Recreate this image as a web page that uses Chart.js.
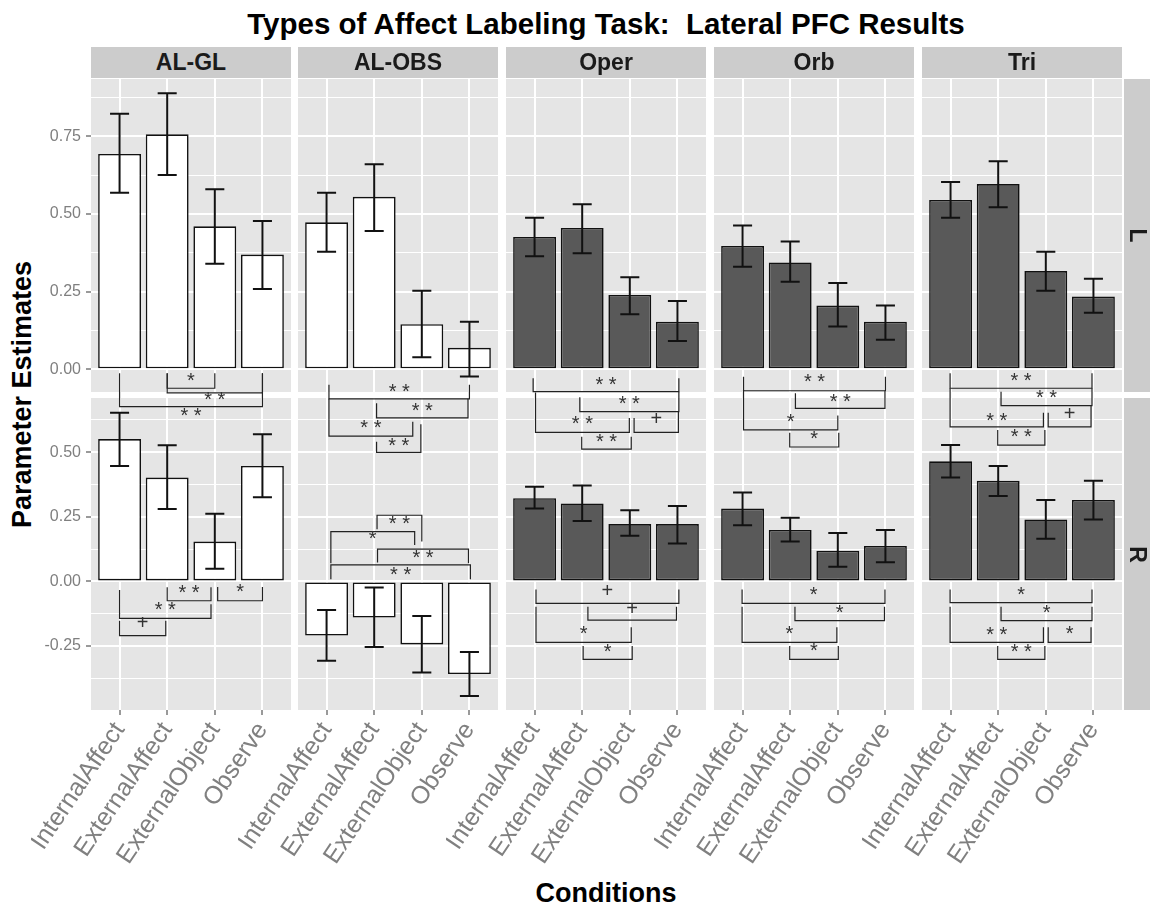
<!DOCTYPE html>
<html>
<head>
<meta charset="utf-8">
<script src="https://cdn.jsdelivr.net/npm/chart.js@4.4.0/dist/chart.umd.min.js"></script>
<style>
  body { margin: 0; background: #fff; width: 1150px; height: 907px; overflow: hidden; position: relative;
         font-family: "Liberation Sans", Arial, sans-serif; }
  canvas { position: absolute; }
  .txt { position: absolute; white-space: pre; line-height: 1; font-weight: bold; color: #000; }
  .strip { position: absolute; background: #cccccc; color: #1a1a1a; font-weight: bold; font-size: 23px;
           display: flex; align-items: center; justify-content: center; z-index: 3; }
</style>
</head>
<body>
<div class="txt" id="title" style="left:31px;width:1150px;top:9px;font-size:29.5px;text-align:center;">Types of Affect Labeling Task:  Lateral PFC Results</div>
<div class="txt" id="xtitle" style="left:31px;width:1150px;top:880px;font-size:27px;text-align:center;">Conditions</div>
<div class="txt" id="ytitle" style="left:-178px;width:400px;top:381px;height:27px;font-size:27px;text-align:center;transform:rotate(-90deg);">Parameter Estimates</div>

<script>
// ─────────────────────────────────────────────
// 데이터
// ─────────────────────────────────────────────
const conditions = ['InternalAffect', 'ExternalAffect', 'ExternalObject', 'Observe'];
const regions = ['AL-GL', 'AL-OBS', 'Oper', 'Orb', 'Tri'];
const hemis = ['L', 'R'];

// 막대 값 (행 = region 순서)
const estL = [
  [0.693, 0.756, 0.460, 0.369],
  [0.473, 0.555, 0.145, 0.069],
  [0.426, 0.455, 0.239, 0.153],
  [0.397, 0.344, 0.205, 0.153],
  [0.545, 0.596, 0.316, 0.234],
];
const loL = [
  [0.568, 0.625, 0.340, 0.258],
  [0.378, 0.445, 0.039, -0.023],
  [0.364, 0.373, 0.177, 0.091],
  [0.330, 0.282, 0.138, 0.095],
  [0.488, 0.521, 0.253, 0.182],
];
const hiL = [
  [0.822, 0.888, 0.579, 0.477],
  [0.568, 0.660, 0.253, 0.153],
  [0.488, 0.531, 0.296, 0.220],
  [0.463, 0.411, 0.278, 0.205],
  [0.603, 0.669, 0.378, 0.291],
];
const estR = [
  [0.551, 0.402, 0.154, 0.447],
  [-0.210, -0.140, -0.244, -0.359],
  [0.322, 0.302, 0.222, 0.222],
  [0.282, 0.199, 0.119, 0.137],
  [0.465, 0.390, 0.240, 0.315],
];
const loR = [
  [0.447, 0.280, 0.049, 0.326],
  [-0.307, -0.254, -0.353, -0.444],
  [0.282, 0.234, 0.177, 0.147],
  [0.217, 0.154, 0.057, 0.074],
  [0.402, 0.331, 0.165, 0.240],
];
const hiR = [
  [0.653, 0.527, 0.262, 0.570],
  [-0.111, -0.024, -0.134, -0.273],
  [0.366, 0.371, 0.275, 0.292],
  [0.344, 0.246, 0.187, 0.199],
  [0.528, 0.447, 0.315, 0.390],
];

// 유의성 괄호: [x1, x2, 가로선 y, 왼쪽 다리 끝, 오른쪽 다리 끝, 글자 y, 글자]
const bracketsL = [
  [[2, 3, -0.061, -0.013, -0.013, -0.018, '*'],
   [2, 4, -0.076, -0.013, -0.013, -0.082, '**'],
   [1, 4, -0.120, -0.013, -0.013, -0.131, '**']],
  [[1.05, 4, -0.095, -0.050, -0.050, -0.056, '**'],
   [2.05, 3.97, -0.156, -0.109, -0.095, -0.115, '**'],
   [1.05, 2.81, -0.215, -0.095, -0.169, -0.172, '**'],
   [2.05, 2.98, -0.267, -0.233, -0.177, -0.228, '**']],
  [[0.97, 4.03, -0.072, -0.029, -0.029, -0.034, '**'],
   [1.95, 4.03, -0.136, -0.090, -0.072, -0.094, '**'],
   [1.02, 2.99, -0.203, -0.075, -0.157, -0.157, '**'],
   [3.09, 4.02, -0.203, -0.157, -0.136, -0.157, '+'],
   [1.99, 3.03, -0.257, -0.217, -0.217, -0.215, '**']],
  [[1.02, 4.0, -0.069, -0.024, -0.024, -0.024, '**'],
   [2.11, 3.99, -0.126, -0.077, -0.069, -0.086, '**'],
   [1.02, 3.0, -0.195, -0.066, -0.149, -0.152, '*'],
   [1.99, 3.02, -0.250, -0.204, -0.204, -0.206, '*']],
  [[0.99, 3.97, -0.061, -0.013, -0.013, -0.018, '**'],
   [2.06, 3.97, -0.117, -0.072, -0.061, -0.075, '**'],
   [0.99, 2.95, -0.185, -0.061, -0.140, -0.147, '**'],
   [3.05, 3.95, -0.185, -0.140, -0.117, -0.142, '+'],
   [1.99, 2.98, -0.244, -0.195, -0.195, -0.201, '**']],
];
const bracketsR = [
  [[2, 2.92, -0.075, -0.023, -0.023, -0.023, '**'],
   [3.06, 4, -0.075, -0.022, -0.022, -0.020, '*'],
   [1, 2.92, -0.143, -0.033, -0.089, -0.091, '**'],
   [1, 1.97, -0.210, -0.152, -0.152, -0.158, '+']],
  [[2.06, 3.0, 0.256, 0.202, 0.154, 0.244, '**'],
   [1.09, 2.85, 0.193, 0.070, 0.141, 0.184, '*'],
   [2.07, 3.98, 0.125, 0.073, 0.070, 0.113, '**'],
   [1.09, 4.02, 0.064, 0.008, 0.008, 0.047, '**']],
  [[1.03, 4.03, -0.085, -0.031, -0.031, -0.033, '+'],
   [2.12, 3.98, -0.150, -0.098, -0.098, -0.104, '+'],
   [1.03, 3.03, -0.236, -0.098, -0.178, -0.182, '*'],
   [2.02, 3.05, -0.302, -0.250, -0.250, -0.250, '*']],
  [[0.99, 3.99, -0.085, -0.031, -0.031, -0.031, '*'],
   [2.1, 3.98, -0.152, -0.098, -0.098, -0.100, '*'],
   [0.99, 2.98, -0.236, -0.098, -0.178, -0.182, '*'],
   [1.99, 3.01, -0.302, -0.250, -0.250, -0.248, '*']],
  [[0.99, 3.97, -0.082, -0.031, -0.031, -0.031, '*'],
   [2.06, 3.97, -0.152, -0.098, -0.098, -0.100, '*'],
   [0.99, 2.95, -0.236, -0.098, -0.178, -0.186, '**'],
   [3.05, 3.95, -0.236, -0.178, -0.178, -0.182, '*'],
   [1.99, 2.98, -0.302, -0.250, -0.250, -0.250, '**']],
];

// 행별 y축 범위 (free_y)
const rangeL = [-0.073, 0.934];
const rangeR = [-0.498, 0.710];

// ─────────────────────────────────────────────
// 레이아웃 / 스타일
// ─────────────────────────────────────────────
const FONT = '"Liberation Sans", Arial, sans-serif';
const PANEL_X = [91, 298, 506, 714, 922];
const PANEL_W = 200;
const ROW_Y = [79, 398];
const ROW_H = [313, 312];
const AXIS_W = 60;
const barFill = ['#ffffff', '#ffffff', '#595959', '#595959', '#595959'];

const isMajor = v => Math.abs(v / 0.25 - Math.round(v / 0.25)) < 1e-6;

// 스트립 (위 / 오른쪽)
regions.forEach((name, c) => {
  const d = document.createElement('div');
  d.className = 'strip';
  d.style.cssText = `left:${PANEL_X[c]}px;top:47px;width:${PANEL_W}px;height:31px;`;
  d.textContent = name;
  document.body.appendChild(d);
});
hemis.forEach((name, r) => {
  const d = document.createElement('div');
  d.className = 'strip';
  d.style.cssText = `left:1124px;top:${ROW_Y[r]}px;width:27px;height:${ROW_H[r]}px;`;
  const s = document.createElement('span');
  s.textContent = name;
  s.style.cssText = 'display:inline-block;transform:rotate(90deg);margin-left:-1px;';
  d.appendChild(s);
  document.body.appendChild(d);
});

// 축 여백 없애기 (라벨 때문에 chartArea가 밀리지 않도록)
function noPad(s) {
  s.paddingTop = 0; s.paddingBottom = 0; s.paddingLeft = 0; s.paddingRight = 0;
}

// ─────────────────────────────────────────────
// 패널 하나 그리기
// ─────────────────────────────────────────────
function makePanel(col, row) {
  const isL = row === 0;
  const est = (isL ? estL : estR)[col];
  const lo = (isL ? loL : loR)[col];
  const hi = (isL ? hiL : hiR)[col];
  const brk = (isL ? bracketsL : bracketsR)[col];
  const [ymin, ymax] = isL ? rangeL : rangeR;

  const padT = 4, padR = 4;
  const padB = isL ? 74 : 0;
  const xAxisH = isL ? 0 : 907 - (ROW_Y[1] + ROW_H[1]);
  const W = AXIS_W + PANEL_W + padR;
  const H = padT + ROW_H[row] + padB + xAxisH;

  const cv = document.createElement('canvas');
  cv.width = W; cv.height = H;
  cv.style.cssText = `left:${PANEL_X[col] - AXIS_W}px;top:${ROW_Y[row] - padT}px;width:${W}px;height:${H}px;z-index:${isL ? 2 : 1};`;
  document.body.appendChild(cv);

  const deco = {
    id: 'deco' + col + row,
    beforeDraw(chart) {
      const a = chart.chartArea, ctx = chart.ctx;
      ctx.save();
      ctx.fillStyle = '#e5e5e5';
      ctx.fillRect(a.left, a.top, a.right - a.left, a.bottom - a.top);
      ctx.restore();
    },
    afterDatasetsDraw(chart) {
      const xs = chart.scales.x, ys = chart.scales.y, ctx = chart.ctx;
      ctx.save();
      // 에러바
      ctx.strokeStyle = '#111';
      ctx.lineWidth = 2;
      lo.forEach((l, i) => {
        const px = xs.getPixelForValue(i + 1);
        const hw = xs.getPixelForValue(i + 1.2) - px;
        const y1 = ys.getPixelForValue(l), y2 = ys.getPixelForValue(hi[i]);
        ctx.beginPath();
        ctx.moveTo(px, y1); ctx.lineTo(px, y2);
        ctx.moveTo(px - hw, y1); ctx.lineTo(px + hw, y1);
        ctx.moveTo(px - hw, y2); ctx.lineTo(px + hw, y2);
        ctx.stroke();
      });
      // 유의성 괄호
      ctx.strokeStyle = '#222';
      ctx.lineWidth = 1.2;
      const fs = 20;
      ctx.font = `${fs}px ${FONT}`;
      ctx.fillStyle = '#333';
      ctx.textAlign = 'center';
      ctx.textBaseline = 'alphabetic';
      brk.forEach(([x1, x2, yl, t1, t2, yt, lab]) => {
        const X1 = xs.getPixelForValue(x1), X2 = xs.getPixelForValue(x2);
        const YL = ys.getPixelForValue(yl);
        ctx.beginPath();
        ctx.moveTo(X1, ys.getPixelForValue(t1));
        ctx.lineTo(X1, YL);
        ctx.lineTo(X2, YL);
        ctx.lineTo(X2, ys.getPixelForValue(t2));
        ctx.stroke();
        const k = lab === '+' ? 0.35 : 0.58;
        const txt = lab === '**' ? '* *' : lab;
        ctx.fillText(txt, (X1 + X2) / 2, ys.getPixelForValue(yt) + k * fs);
      });
      ctx.restore();
    }
  };

  new Chart(cv, {
    type: 'bar',
    data: {
      datasets: [{
        data: est.map((v, i) => ({ x: i + 1, y: v })),
        backgroundColor: barFill[col],
        borderColor: '#111',
        borderWidth: 1.6,
        borderSkipped: false,
        barPercentage: 0.9,
        categoryPercentage: 1,
      }]
    },
    options: {
      responsive: false,
      animation: false,
      devicePixelRatio: 1,
      layout: { padding: { top: padT, right: padR, bottom: padB, left: 0 } },
      plugins: { legend: { display: false }, tooltip: { enabled: false } },
      scales: {
        x: {
          type: 'linear', min: 0.4, max: 4.6, offset: false,
          afterBuildTicks: s => { s.ticks = [1, 2, 3, 4].map(v => ({ value: v })); },
          afterFit: s => { s.height = xAxisH; noPad(s); },
          grid: { color: '#ffffff', lineWidth: 2, offset: false, drawTicks: !isL, tickLength: 5, tickColor: '#9a9a9a' },
          border: { display: false },
          ticks: {
            display: !isL, autoSkip: false, minRotation: 56, maxRotation: 56, padding: 2,
            color: '#808080', font: { family: FONT, size: 25 },
            callback: v => conditions[v - 1]
          }
        },
        y: {
          min: ymin, max: ymax,
          afterBuildTicks: s => {
            const t = [];
            for (let k = Math.ceil(ymin / 0.125); k * 0.125 <= ymax; k++) t.push({ value: k * 0.125 });
            s.ticks = t;
          },
          afterFit: s => { s.width = AXIS_W; noPad(s); },
          grid: {
            color: '#ffffff',
            lineWidth: c => (c.tick && isMajor(c.tick.value)) ? 2 : 1,
            drawTicks: col === 0, tickLength: 5,
            tickColor: c => (c.tick && isMajor(c.tick.value)) ? '#9a9a9a' : 'rgba(0,0,0,0)'
          },
          border: { display: false },
          ticks: {
            display: col === 0, autoSkip: false, padding: 5,
            color: '#7f7f7f', font: { family: FONT, size: 16 },
            callback: v => isMajor(v) ? v.toFixed(2) : ''
          }
        }
      }
    },
    plugins: [deco]
  });
}

for (let r = 0; r < 2; r++) {
  for (let c = 0; c < 5; c++) makePanel(c, r);
}
</script>
</body>
</html>
